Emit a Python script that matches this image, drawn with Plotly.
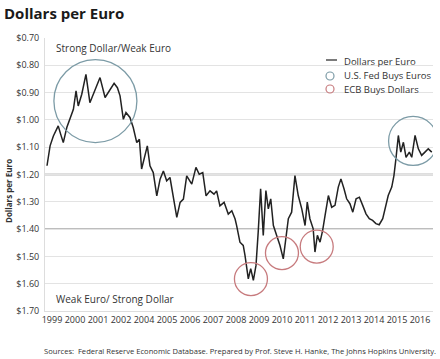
import numpy as np
import plotly.graph_objects as go

# ---- data ----
years = [1999.00, 1999.14, 1999.29, 1999.51, 1999.62, 1999.74, 1999.90, 2000.05, 2000.20, 2000.32,
         2000.42, 2000.58, 2000.77, 2000.95, 2001.18, 2001.41, 2001.64, 2001.86, 2002.05, 2002.20,
         2002.32, 2002.47, 2002.59, 2002.77, 2002.92, 2003.08, 2003.20, 2003.30, 2003.45, 2003.56,
         2003.68, 2003.83, 2003.99, 2004.14, 2004.29, 2004.44, 2004.59, 2004.74, 2004.90, 2005.05,
         2005.20, 2005.35, 2005.58, 2005.77, 2005.92, 2006.08, 2006.23, 2006.41, 2006.59, 2006.71,
         2006.86, 2007.05, 2007.24, 2007.40, 2007.55, 2007.62, 2007.77, 2007.92, 2008.00, 2008.15,
         2008.26, 2008.38, 2008.50, 2008.60, 2008.71, 2008.83, 2008.95, 2009.06, 2009.17, 2009.29,
         2009.44, 2009.59, 2009.74, 2009.86, 2009.97, 2010.12, 2010.27, 2010.42, 2010.58, 2010.73,
         2010.83, 2010.95, 2011.10, 2011.18, 2011.29, 2011.41, 2011.53, 2011.64, 2011.79, 2011.94,
         2012.09, 2012.24, 2012.36, 2012.50, 2012.62, 2012.77, 2012.90, 2013.05, 2013.20, 2013.35,
         2013.50, 2013.65, 2013.80, 2013.95, 2014.10, 2014.26, 2014.38, 2014.51, 2014.67, 2014.77,
         2014.86, 2014.97, 2015.08, 2015.20, 2015.32, 2015.47, 2015.58, 2015.73, 2015.88, 2016.03,
         2016.18, 2016.33, 2016.49]
dollars_per_euro = [1.168, 1.095, 1.059, 1.022, 1.052, 1.083, 1.028, 0.991, 0.961, 0.894,
                    0.949, 0.906, 0.833, 0.937, 0.894, 0.845, 0.918, 0.888, 0.866, 0.882,
                    0.912, 0.998, 0.973, 0.991, 1.028, 1.083, 1.071, 1.180, 1.132, 1.095,
                    1.168, 1.193, 1.278, 1.217, 1.187, 1.223, 1.211, 1.278, 1.357, 1.302,
                    1.290, 1.205, 1.235, 1.174, 1.199, 1.193, 1.278, 1.260, 1.272, 1.260,
                    1.315, 1.302, 1.345, 1.333, 1.363, 1.387, 1.448, 1.460, 1.496, 1.582,
                    1.545, 1.588, 1.533, 1.411, 1.252, 1.423, 1.259, 1.326, 1.289, 1.387,
                    1.423, 1.460, 1.509, 1.435, 1.362, 1.338, 1.204, 1.277, 1.326, 1.387,
                    1.301, 1.362, 1.399, 1.484, 1.423, 1.448, 1.405, 1.350, 1.277, 1.320,
                    1.313, 1.246, 1.216, 1.252, 1.289, 1.307, 1.338, 1.289, 1.283, 1.313,
                    1.344, 1.362, 1.368, 1.380, 1.384, 1.362, 1.326, 1.277, 1.246, 1.204,
                    1.143, 1.057, 1.118, 1.082, 1.137, 1.118, 1.137, 1.057, 1.106, 1.130,
                    1.118, 1.106, 1.118]
tick_labels = ["1999", "2000", "2001", "2002", "2004", "2005", "2006", "2007", "2008",
               "2009", "2010", "2011", "2012", "2013", "2014", "2015", "2016"]
y_ticks = [0.70, 0.80, 0.90, 1.00, 1.10, 1.20, 1.30, 1.40, 1.50, 1.60, 1.70]
y_tick_labels = ["$0.70", "$0.80", "$0.90", "$1.00", "$1.10", "$1.20", "$1.30", "$1.40",
                 "$1.50", "$1.60", "$1.70"]
fed_circles = [(2001.2, 0.931, 41.5), (2015.64, 1.077, 24.5)]
ecb_circles = [(2008.27, 1.583, 16.5), (2009.68, 1.488, 16.5), (2011.26, 1.464, 16.5)]

FONT = "Open Sans"
BLUE = "#7c9ba6"
RED = "#c77b7e"
TXT = "#333333"

# plot area in pixels
L, R, T, B = 45, 433, 38, 311
W, H = 440, 359


def px_x(p):
    return (p - L) / (R - L)


def px_y(p):
    return (B - p) / (B - T)


fig = go.Figure()
fig.add_trace(go.Scatter(x=years, y=dollars_per_euro, mode="lines",
                         line=dict(color="#222222", width=1.5), showlegend=False,
                         hoverinfo="skip"))

shapes = []
# darker reference gridlines
for v in (1.20, 1.40):
    shapes.append(dict(type="line", xref="paper", yref="y", x0=0, x1=1, y0=v, y1=v,
                       line=dict(color="#bdbdbd", width=2), layer="below"))
for cx, cy, r in fed_circles:
    shapes.append(dict(type="circle", xref="x", yref="y", xsizemode="pixel", ysizemode="pixel",
                       xanchor=cx, yanchor=cy, x0=-r, x1=r, y0=-r, y1=r,
                       line=dict(color=BLUE, width=1.3)))
for cx, cy, r in ecb_circles:
    shapes.append(dict(type="circle", xref="x", yref="y", xsizemode="pixel", ysizemode="pixel",
                       xanchor=cx, yanchor=cy, x0=-r, x1=r, y0=-r, y1=r,
                       line=dict(color=RED, width=1.3)))

# manual legend
shapes.append(dict(type="line", xref="paper", yref="paper", x0=px_x(326), x1=px_x(337),
                   y0=px_y(60), y1=px_y(60), line=dict(color="#333333", width=1.3)))
for py, col in ((76, BLUE), (89, RED)):
    shapes.append(dict(type="circle", xref="paper", yref="paper", xsizemode="pixel",
                       ysizemode="pixel", xanchor=px_x(330), yanchor=px_y(py),
                       x0=-4, x1=4, y0=-4, y1=4, line=dict(color=col, width=1.2)))

annotations = [
    dict(text="Strong Dollar/Weak Euro", x=px_x(54), y=px_y(48), xref="paper", yref="paper",
         xanchor="left", yanchor="middle", showarrow=False, font=dict(family=FONT, size=10, color=TXT)),
    dict(text="Weak Euro/ Strong Dollar", x=px_x(54), y=px_y(299), xref="paper", yref="paper",
         xanchor="left", yanchor="middle", showarrow=False, font=dict(family=FONT, size=10, color=TXT)),
    dict(text="Dollars per Euro", x=px_x(342), y=px_y(61), xref="paper", yref="paper",
         xanchor="left", yanchor="middle", showarrow=False, font=dict(family=FONT, size=9.5, color=TXT)),
    dict(text="U.S. Fed Buys Euros", x=px_x(342), y=px_y(76), xref="paper", yref="paper",
         xanchor="left", yanchor="middle", showarrow=False, font=dict(family=FONT, size=9.5, color=TXT)),
    dict(text="ECB Buys Dollars", x=px_x(342), y=px_y(89), xref="paper", yref="paper",
         xanchor="left", yanchor="middle", showarrow=False, font=dict(family=FONT, size=9.5, color=TXT)),
    dict(text="<b>Dollars per Euro</b>", x=px_x(8), y=px_y(191), xref="paper", yref="paper",
         xanchor="center", yanchor="middle", textangle=-90, showarrow=False,
         font=dict(family=FONT, size=8, color=TXT)),
    dict(text="Sources:  Federal Reserve Economic Database. Prepared by Prof. Steve H. Hanke, The Johns Hopkins University.",
         x=px_x(239.5), y=px_y(351), xref="paper", yref="paper", xanchor="center", yanchor="middle",
         showarrow=False, font=dict(family=FONT, size=7.6, color=TXT)),
]

x0 = 1999 + (L - 47) / 22.0
x1 = 1999 + (R - 47) / 22.0
tickvals = np.linspace(1999 + 5 / 22.0, 1999 + 373 / 22.0, len(tick_labels))

fig.update_layout(
    width=W, height=H,
    margin=dict(l=L, r=W - R, t=T, b=H - B),
    paper_bgcolor="white", plot_bgcolor="white",
    title=dict(text="<b>Dollars per Euro</b>", x=4 / W, xanchor="left", y=1 - 14 / H, yanchor="middle",
               font=dict(family=FONT, size=15, color="#1a1a1a")),
    xaxis=dict(range=[x0, x1], tickvals=tickvals, ticktext=tick_labels, showgrid=False,
               zeroline=False, showline=True, linecolor="#dddddd", linewidth=1,
               ticks="", tickfont=dict(family=FONT, size=9, color=TXT)),
    yaxis=dict(range=[1.70, 0.70], tickvals=y_ticks, ticktext=y_tick_labels, showgrid=True,
               gridcolor="#e3e3e3", gridwidth=1, zeroline=False, showline=True,
               linecolor="#dddddd", linewidth=1, ticks="outside", ticklen=3, tickcolor="white",
               tickfont=dict(family=FONT, size=9, color=TXT)),
    shapes=shapes, annotations=annotations, showlegend=False,
)

fig.write_html("out.html", config={"displayModeBar": False},
               post_script="document.body.style.margin='0';document.body.style.overflow='hidden';")
